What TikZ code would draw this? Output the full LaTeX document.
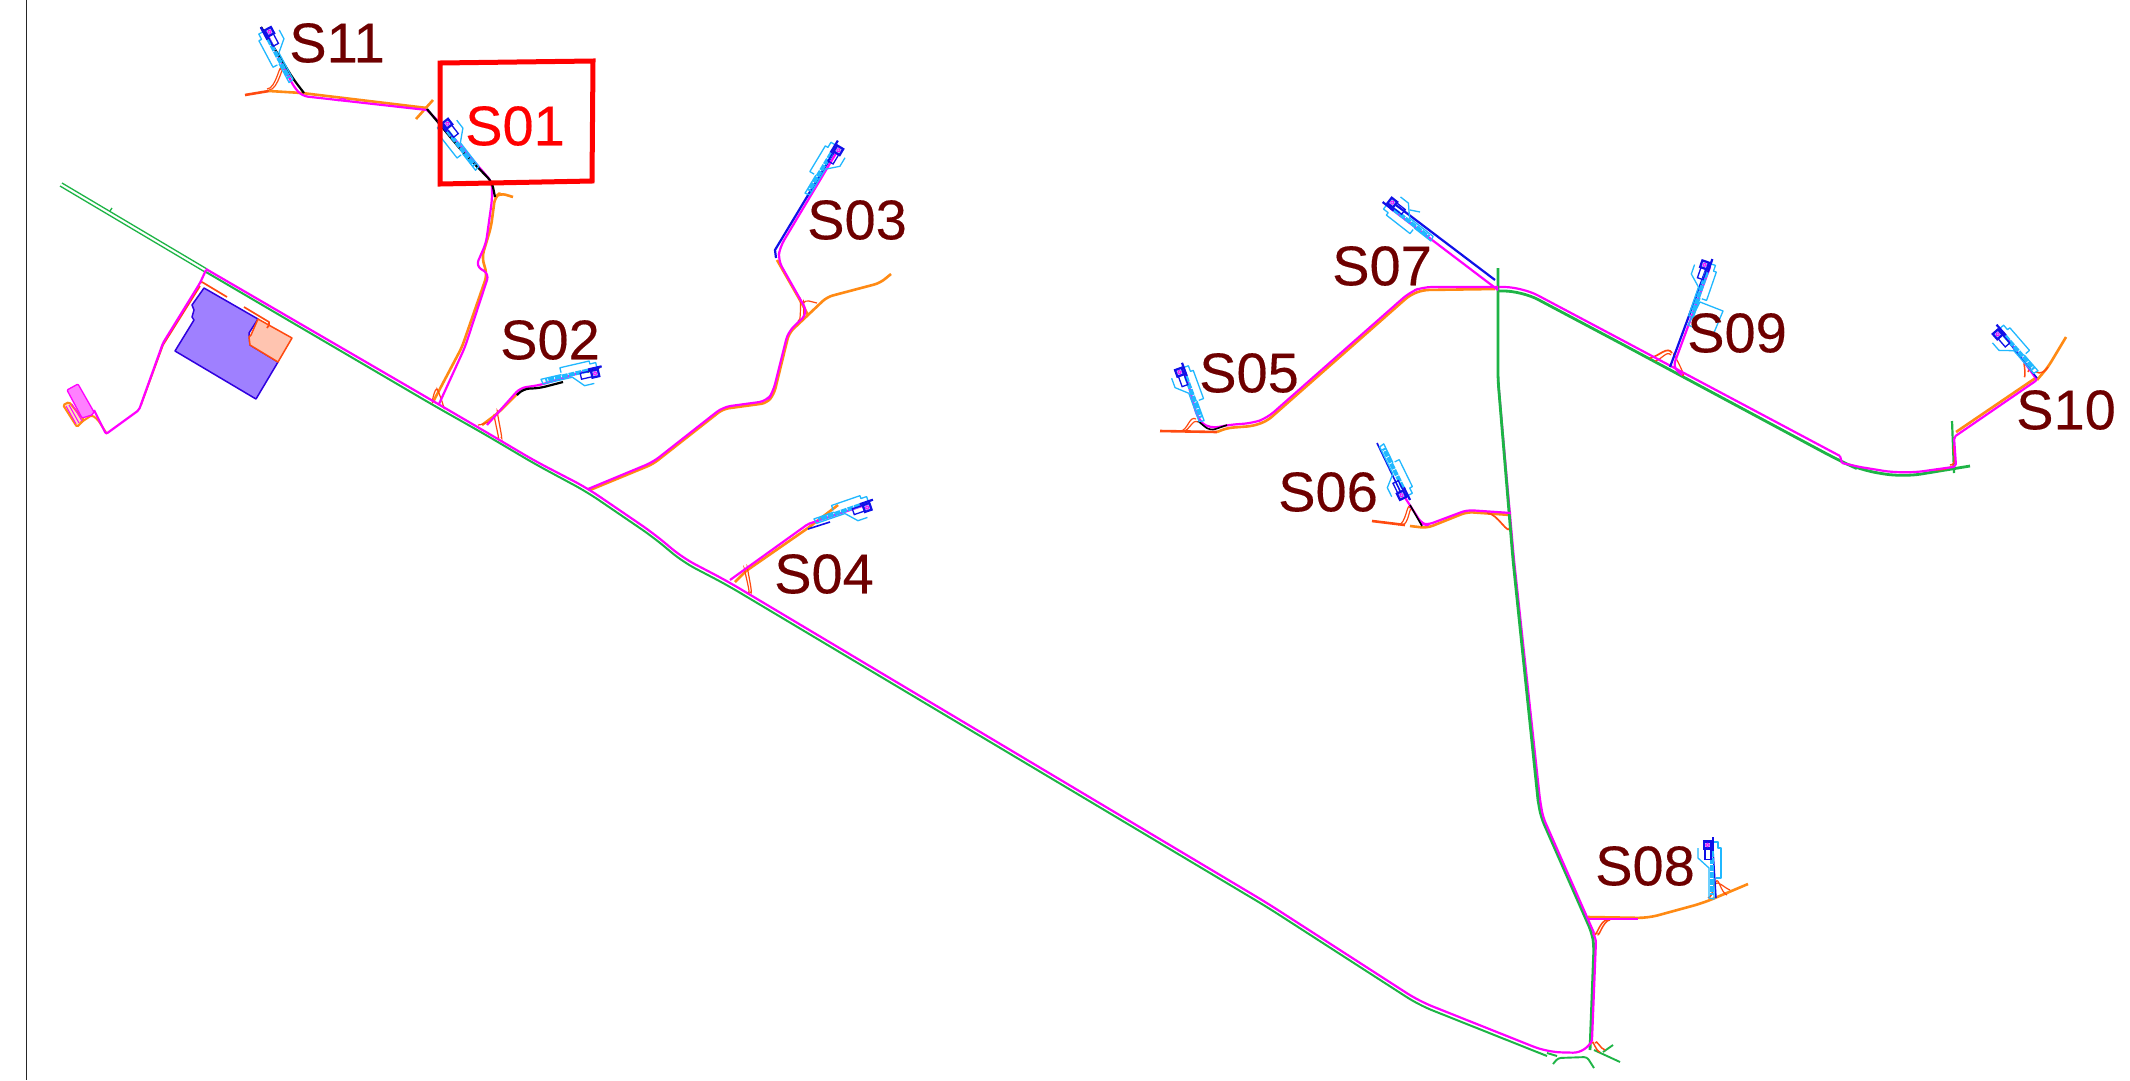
\documentclass[tikz,border=0pt]{standalone}
\usepackage{fontspec}
\setmainfont{Liberation Sans}
\newfontfamily\tagfont[FakeBold=0.25]{Liberation Sans}
\definecolor{mg}{HTML}{FF00FF}
\definecolor{og}{HTML}{FF8A14}
\definecolor{rd}{HTML}{FF4A10}
\definecolor{gn}{HTML}{1EB446}
\definecolor{cy}{HTML}{20B8FF}
\definecolor{bl}{HTML}{1010E8}
\definecolor{lbl}{HTML}{6E0000}
\definecolor{pfill}{HTML}{9F80FF}
\definecolor{pline}{HTML}{3000E0}
\definecolor{sfill}{HTML}{FFC4B0}
\definecolor{mfill}{HTML}{FF80FF}
\tikzset{
 x=1pt,y=-1pt,
 mgl/.style={draw=mg,line width=2.2pt,line join=round,rounded corners=6pt},
 ogl/.style={draw=og,line width=2.6pt,line join=round,rounded corners=6pt},
 rdc/.style={draw=rd,line width=1.2pt},
 rdl/.style={draw=rd,line width=1.7pt,line join=round},
 gnl/.style={draw=gn,line width=2.8pt,line join=round,rounded corners=8pt},
 gnt/.style={draw=gn,line width=1.3pt,line join=round},
 bkl/.style={draw=black,line width=2.2pt,line join=round,rounded corners=6pt},
 bll/.style={draw=bl,line width=2.2pt},
 cyl/.style={draw=cy,line width=1.3pt,line join=round},
 tag/.style={text=lbl,font=\tagfont\fontsize{56}{56}\selectfont,inner sep=0pt},
 padsite/.pic={
  \draw[cyl] (-10,3)--(-10,13)--(1,23)--(1,53)--(6,54)--(6,33);
  \draw[cyl] (2,-3)--(10,-3)--(10,3)--(13,3)--(13,33)--(8,33);
  \draw[cy,line width=4pt,dash pattern=on 6pt off 1pt] (4,6)--(4,50);
  \draw[bll,fill=bl!30!white] (-4,-3.5) rectangle (3,3.5);
  \draw[bl,line width=1.3pt] (-3,3.5) rectangle (3,14.5);
  \draw[mg,line width=0.8pt] (-0.5,0) circle (1.8);
  \draw[bll] (5,-8)--(5,6);
 }
}
\begin{document}
\begin{tikzpicture}
\useasboundingbox (0,0) rectangle (2130,1080);
\fill[white] (0,0) rectangle (2130,1080);
\draw[black!85,line width=1pt] (26,0)--(26,1080);

% main green roads
\draw[gnt] (60,186)--(205,272);
\draw[gnt] (62,183)--(207,269);
\draw[gnt] (110,211)--(112,208);
\draw[gnl,line width=2pt,rounded corners=14pt] (206,272)--(433,405)--(486,435)--(535,464)--(587,492)--(653,537)--(683,562)--(727,585)--(1267,907)--(1419,1005)--(1547,1056);
\draw[gnl] (1538,800)--(1541,817)--(1592,933)--(1594,945)--(1590,1050);
\draw[gnl,rounded corners=18pt] (1498,291)--(1522,291)--(1620,343)--(1840,461)--(1860,470)--(1903,477)--(1970,466);
\draw[gnl,rounded corners=0pt,line width=2.2pt] (1952,421)--(1954,473);
% junction
\draw[gnt,line width=1.9pt,rounded corners=3pt] (1553,1064)--(1558,1058)--(1587,1057)--(1594,1068);
\draw[gnt,line width=1.9pt] (1547,1053)--(1557,1056);
\draw[gnt,line width=1.9pt,rounded corners=3pt] (1594,1050)--(1607,1056)--(1620,1062);
\draw[gnt,line width=1.9pt] (1603,1052)--(1613,1045);

% plant blocks
\draw[pline,line width=1.5pt,fill=pfill,line join=round] (204,288)--(258,319)--(249,333)--(250,345)--(278,362)--(256,399)--(175,351)--(194,320)--(192,317)--(194,310)--(192,305)--cycle;
\draw[rd,line width=1.5pt,fill=sfill,line join=round] (258,319)--(292,338)--(278,362)--(250,345)--(249,337)--(251,335)--cycle;
\draw[rdl] (200,283)--(202,282)--(227,297);
\draw[rdl] (244,307)--(269,322)--(269,325)--(267,328);

% western spur
\draw[og,line width=2pt,fill=og!30!white,line join=round,rounded corners=1.5pt] (63,405)--(69,402)--(84,420)--(77,427)--cycle;
\draw[og,line width=2pt,line join=round,rounded corners=2pt] (80,423)--(92,415)--(98,420)--(107,434);
\draw[mg,line width=1.3pt,fill=mfill,line join=round,rounded corners=1pt] (67,390)--(78,384)--(94,412)--(92,415)--(82,418)--cycle;
\draw[mg,line width=1pt] (66,406)--(76,424) (69,405)--(79,423) (72,404)--(82,421);
\draw[rdl] (200,286)--(163,345)--(141,405);
\draw[mgl,rounded corners=2pt] (206,270)--(200,283)--(163,343)--(139,410)--(106,434)--(94,410);

% orange carriageways
\draw[ogl] (433,402)--(462,347)--(487,275)--(482,257)--(491,227)--(495,197)--(500,193)--(513,197);
\draw[ogl,rounded corners=0pt] (433,100)--(416,119);
\draw[ogl] (482,425)--(498,413)--(517,394);
\draw[ogl] (590,490)--(653,464)--(723,409)--(767,403)--(774,394)--(789,333)--(808,315)--(827,297)--(880,283)--(891,274);
\draw[ogl] (808,315)--(801,302)--(777,260);
\draw[ogl,rounded corners=1pt] (735,582)--(746,571)--(808,528)--(838,505);
\draw[ogl] (1495,289)--(1423,290)--(1410,295)--(1267,421)--(1253,426)--(1227,428)--(1217,432);
\draw[rdl,line width=2.6pt] (1160,431)--(1217,432);
\draw[ogl] (1511,515)--(1467,512)--(1427,528)--(1410,526);
\draw[rdl,line width=2.6pt] (1372,521)--(1405,525);
\draw[ogl,rounded corners=10pt] (1588,917)--(1648,918)--(1703,903)--(1748,884);
\draw[ogl,rounded corners=2pt] (1956,432)--(2037,377);
\draw[ogl] (2037,380)--(2048,367)--(2066,337);

% red curved ramps
\draw[rdc] (284,70) to[out=95,in=0] (269,90);
\draw[rdc] (281,70) to[out=95,in=0] (267,89);
\draw[rdl,line width=2.6pt] (245,95)--(269,91);
\draw[rdc] (437,390) to[out=100,in=-60] (443,407);
\draw[rdc] (437,390) to[out=110,in=-120] (433,402);
\draw[rdc] (495,418) to[out=110,in=-70] (498,437);
\draw[rdc] (498,412) to[out=110,in=-70] (501,437);
\draw[rdc] (478,425) to[out=0,in=180] (490,422);
\draw[rdc] (803,303) to[out=50,in=170] (817,303);
\draw[rdc] (801,301) to[out=100,in=-60] (798,320);
\draw[rdc] (804,303) to[out=100,in=-60] (802,318);
\draw[rdc] (745,570) to[out=110,in=-60] (748,592);
\draw[rdc] (748,568) to[out=110,in=-60] (750,592);
\draw[rdc] (1198,422) to[out=150,in=0] (1183,431);
\draw[rdc] (1196,419) to[out=150,in=0] (1180,431);
\draw[rdc] (1412,510) to[out=110,in=0] (1402,525);
\draw[rdc] (1410,508) to[out=110,in=0] (1398,525);
\draw[rdc,line width=1.7pt] (1487,513) to[out=0,in=-95] (1510,527);
\draw[rdc,line width=1.7pt] (1672,353) to[out=120,in=10] (1650,358);
\draw[rdc] (1674,356) to[out=110,in=-40] (1682,375);
\draw[rdc] (1671,355) to[out=130,in=10] (1655,361);
\draw[rdc,line width=1.5pt] (2028,372) to[out=90,in=-70] (2030,365);
\draw[rdc,line width=1.5pt] (2024,376) to[out=-60,in=90] (2024,365);
\draw[rdc,line width=1.5pt] (2048,367) to[out=-120,in=-30] (2036,372);
\draw[rdc,line width=1.5pt] (1950,465) to[out=0,in=-100] (1954,445);
\draw[rdc,line width=1.5pt] (1930,470) to[out=0,in=-150] (1955,465);
\draw[rdc,line width=1.5pt] (1595,933) to[out=-90,in=180] (1607,920);
\draw[rdc,line width=1.5pt] (1598,933) to[out=-90,in=180] (1610,920);
\draw[rdc,line width=1.5pt] (1592,1043) to[out=80,in=170] (1600,1052);
\draw[rdc,line width=1.5pt] (1595,1043) to[out=70,in=170] (1605,1050);
\draw[rdc,line width=1.5pt] (1715,884) to[out=100,in=10] (1708,898);
\draw[rdc] (1716,882) to[out=70,in=160] (1727,895);
\draw[rdc] (1715,885) to[out=70,in=160] (1730,890);

% magenta centre lines
\draw[mgl,rounded corners=14pt] (206,269)--(433,401)--(486,432)--(535,461)--(587,488)--(653,533)--(683,558)--(727,581)--(1267,903)--(1419,1001)--(1547,1052)--(1587,1053)--(1592,1040);
\draw[mgl,rounded corners=3pt] (1592,1040)--(1596,940)--(1593,933);
\draw[mgl,rounded corners=18pt] (1498,287)--(1522,287)--(1620,339)--(1840,456);
\draw[mgl,rounded corners=1pt] (1840,456)--(1842,463)--(1860,467);
\draw[mgl,rounded corners=20pt] (1860,467)--(1903,474)--(1953,467);
\draw[mgl,rounded corners=2pt] (1953,467)--(1956,466)--(1954,437)--(2037,380)--(2003,332);
\draw[mgl] (1498,380)--(1514,560)--(1540,800)--(1543,817)--(1594,933);
\draw[gnl] (1498,268)--(1498,380)--(1513,560)--(1538,800);
\draw[mgl] (439,404)--(465,347)--(489,274)--(476,266)--(486,243)--(492,200)--(492,182)--(445,128)--(427,110);
\draw[ogl] (427,108)--(302,93);
\draw[ogl] (302,93)--(269,91);
\draw[mgl] (427,110)--(302,96)--(294,87)--(266,32);
\draw[mg,line width=1.2pt] (338,101) to[out=60,in=120] (347,101);
\draw[mgl] (487,425)--(520,388)--(540,385)--(563,378)--(595,368);
\draw[mgl,rounded corners=8pt] (588,489)--(653,462)--(723,407)--(767,401)--(773,392)--(788,332)--(808,313)--(778,260)--(780,247)--(838,150);
\draw[mgl,rounded corners=2pt] (730,580)--(808,524)--(865,505);
\draw[mgl,rounded corners=9pt] (1498,287)--(1423,287)--(1410,292)--(1267,418)--(1253,423)--(1227,425)--(1210,429)--(1198,420)--(1185,372);
\draw[mgl] (1511,513)--(1467,510)--(1427,525)--(1422,524)--(1402,493);
\draw[mgl] (1498,290)--(1390,208);
\draw[mgl] (1710,267)--(1673,367)--(1682,375);
\draw[mgl,rounded corners=0pt] (1588,919)--(1638,919);

% dark and blue parts of the access roads
\draw[bkl] (261,27)--(294,80)--(304,93);
\draw[bkl] (427,109)--(461,150)--(492,182)--(495,197);
\draw[bkl] (517,395)--(523,389)--(540,388)--(563,382);
\draw[bkl] (587,372)--(600,367);
\draw[bkl,line width=1.6pt] (1198,421)--(1210,431)--(1227,425);
\draw[bkl,line width=1.6pt] (1410,505)--(1422,526);
\draw[bll] (776,258)--(775,250)--(834,152);
\draw[bll] (1396,205)--(1495,280);
\draw[bll,line width=1.6pt] (808,529)--(830,522);
\draw[bll,line width=1.6pt] (1377,443)--(1402,495);
\draw[bll] (1707,267)--(1670,367);
\draw[bll,line width=1.5pt] (2003,335)--(2037,378);
\draw[bll,line width=1.5pt] (1713,850)--(1716,898);

% well-pad sites
\pic at (269,32) [rotate=28,xscale=-1] {padsite};
\pic at (447,124) [rotate=38,xscale=-1] {padsite};
\pic at (595,373) [rotate=-77,xscale=-1] {padsite};
\pic at (838,150) [rotate=-31,xscale=-1] {padsite};
\pic at (867,507) [rotate=-71,xscale=-1] {padsite};
\pic at (1180,372) [rotate=20] {padsite};
\pic at (1402,495) [rotate=-154,xscale=-1] {padsite};
\pic at (1392,203) [rotate=52,xscale=-1] {padsite};
\pic at (1708,845) {padsite};
\pic at (1705,265) [rotate=-19] {padsite};
\pic at (1998,334) [rotate=41] {padsite};
\draw[cyl] (1700,302)--(1723,311)--(1713,335)--(1688,325)--cycle;
\draw[cyl] (1410,210)--(1420,212);

% frame and labels
\draw[red,line width=5pt,line join=miter] (440,63)--(593,61)--(592,181)--(440,184)--cycle;
\node[tag] (s11) at (337,43) {S11};
\node[tag,text=red] (s01) at (515,126) {S01};
\node[tag] (s03) at (857,220) {S03};
\node[tag] (s02) at (550,340) {S02};
\node[tag] (s04) at (824,574) {S04};
\node[tag] (s05) at (1249,373) {S05};
\node[tag] (s07) at (1382,266) {S07};
\node[tag] (s09) at (1737,333) {S09};
\node[tag] (s06) at (1328,492) {S06};
\node[tag] (s10) at (2066,410) {S10};
\node[tag] (s08) at (1645,866) {S08};
\end{tikzpicture}
\end{document}
